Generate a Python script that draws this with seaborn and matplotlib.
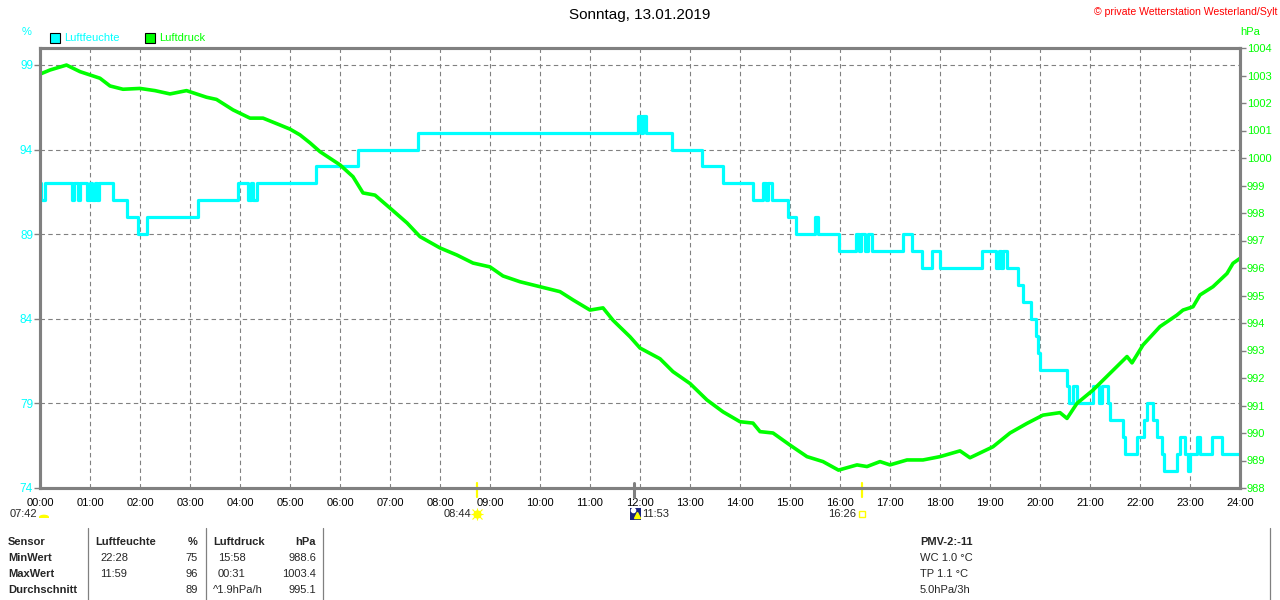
import numpy as np
import pandas as pd
import matplotlib
matplotlib.use("Agg")
import matplotlib.pyplot as plt
import seaborn as sns
from matplotlib.lines import Line2D
from matplotlib.patches import Rectangle, Wedge, Circle

# ---------------- data ----------------
hum_t = [0.00, 0.02, 0.09, 0.64, 0.68, 0.76, 0.79, 0.94, 1.00, 1.04, 1.10, 1.14, 1.18, 1.46, 1.74,
         1.96, 2.14, 3.16, 3.96, 4.16, 4.22, 4.26, 4.34, 5.52, 6.36, 7.56, 11.96, 12.02, 12.06, 12.12,
         12.64, 13.24, 13.66, 14.26, 14.46, 14.52, 14.56, 14.64, 14.96, 15.12, 15.50, 15.56, 15.98,
         16.32, 16.38, 16.42, 16.50, 16.56, 16.64, 17.26, 17.44, 17.64, 17.84, 18.00, 18.84, 19.12,
         19.18, 19.22, 19.26, 19.34, 19.56, 19.66, 19.82, 19.92, 19.96, 20.00, 20.54, 20.58, 20.66,
         20.74, 21.06, 21.18, 21.24, 21.36, 21.40, 21.66, 21.70, 21.94, 22.08, 22.14, 22.26, 22.34,
         22.44, 22.48, 22.74, 22.80, 22.90, 22.96, 23.00, 23.14, 23.20, 23.44, 23.64, 24.00]
hum_v = [92, 91, 92, 91, 92, 91, 92, 91, 92, 91, 92, 91, 92, 91, 90,
         89, 90, 91, 92, 91, 92, 91, 92, 93, 94, 95, 96, 95, 96, 95,
         94, 93, 92, 91, 92, 91, 92, 91, 90, 89, 90, 89, 88,
         89, 88, 89, 88, 89, 88, 89, 88, 87, 88, 87, 88, 87,
         88, 87, 88, 87, 86, 85, 84, 83, 82, 81, 80, 79, 80,
         79, 80, 79, 80, 79, 78, 77, 76, 77, 78, 79, 78, 77,
         76, 75, 76, 77, 76, 75, 76, 77, 76, 77, 76, 76]

p_t = [0.0, 0.2, 0.53, 0.8, 1.0, 1.2, 1.4, 1.66, 2.0, 2.3, 2.6, 2.93, 3.33, 3.53, 3.86, 4.2, 4.46,
       4.8, 5.0, 5.2, 5.4, 5.6, 6.0, 6.26, 6.46, 6.7, 7.0, 7.34, 7.6, 8.0, 8.34, 8.66, 9.0, 9.26,
       9.6, 10.0, 10.4, 10.66, 11.0, 11.26, 11.46, 11.8, 12.0, 12.4, 12.66, 13.0, 13.34, 13.66, 14.0,
       14.26, 14.4, 14.66, 15.0, 15.34, 15.66, 15.97, 16.34, 16.54, 16.8, 17.0, 17.34, 17.66, 18.0,
       18.4, 18.6, 19.06, 19.4, 19.74, 20.06, 20.4, 20.54, 20.74, 21.06, 21.4, 21.74, 21.84, 22.06,
       22.4, 22.74, 22.86, 23.06, 23.2, 23.46, 23.74, 23.86, 24.0]
p_v = [1003.05, 1003.2, 1003.38, 1003.14, 1003.02, 1002.9, 1002.62, 1002.5, 1002.53, 1002.45,
       1002.33, 1002.45, 1002.21, 1002.13, 1001.75, 1001.45, 1001.45, 1001.2, 1001.05, 1000.84,
       1000.55, 1000.23, 999.75, 999.32, 998.73, 998.65, 998.18, 997.64, 997.14, 996.73, 996.47,
       996.18, 996.04, 995.71, 995.5, 995.32, 995.14, 994.84, 994.47, 994.55, 994.1, 993.5, 993.09,
       992.7, 992.23, 991.8, 991.2, 990.77, 990.41, 990.36, 990.05, 990.0, 989.56, 989.14, 988.96,
       988.65, 988.84, 988.78, 988.96, 988.84, 989.02, 989.02, 989.14, 989.35, 989.1, 989.5, 990.0,
       990.35, 990.65, 990.74, 990.53, 991.08, 991.56, 992.17, 992.78, 992.55, 993.2, 993.87,
       994.29, 994.47, 994.59, 995.02, 995.32, 995.8, 996.17, 996.35]

hour_ticks = list(range(0, 25))
hour_labels = [f"{h:02d}:00" for h in hour_ticks]
hum_ticks = [74, 79, 84, 89, 94, 99]
p_ticks = list(range(988, 1005))

title = "Sonntag, 13.01.2019"
copyright_txt = "\u00a9 private Wetterstation Westerland/Sylt"

table_rows = ["Sensor", "MinWert", "MaxWert", "Durchschnitt"]
hum_times = ["", "22:28", "11:59", ""]
hum_vals = ["%", "75", "96", "89"]
p_times = ["", "15:58", "00:31", "^1.9hPa/h"]
p_vals = ["hPa", "988.6", "1003.4", "995.1"]
extra_lines = ["PMV-2:-11", "WC 1.0 \u00b0C", "TP 1.1 \u00b0C", "5.0hPa/3h"]

sun_events = ["07:42", "08:44", "11:53", "16:26"]

# ---------------- style ----------------
sns.set_style("white")
plt.rcParams['font.family'] = ['Liberation Sans', 'DejaVu Sans']

CYAN = "#00FFFF"
GREEN = "#00FF00"
GRAY = "#808080"
YEL = "#FFFF00"

W, H = 1280, 600
fig = plt.figure(figsize=(12.8, 6.0), dpi=100)
fig.patch.set_facecolor("white")


def fx(x):
    return x / W


def fy(y):
    return 1 - y / H


ax = fig.add_axes([fx(40), fy(488), (1240 - 40) / W, (488 - 48) / H])
ax2 = ax.twinx()

df_h = pd.DataFrame({"t": hum_t, "v": hum_v})
df_p = pd.DataFrame({"t": p_t, "v": p_v})

sns.lineplot(data=df_h, x="t", y="v", ax=ax, color=CYAN, linewidth=2.3,
             drawstyle="steps-post", estimator=None, legend=False)
sns.lineplot(data=df_p, x="t", y="v", ax=ax2, color=GREEN, linewidth=2.6,
             estimator=None, legend=False)

ax.set_xlim(0, 24)
ax.set_ylim(74, 100)
ax2.set_ylim(988, 1004)

ax.set_xlabel("")
ax.set_ylabel("")
ax2.set_ylabel("")

ax.set_xticks(hour_ticks)
ax.set_xticklabels(hour_labels)
ax.set_yticks(hum_ticks)
ax2.set_yticks(p_ticks)

ax.grid(True, linestyle=(0, (4, 3)), color=GRAY, linewidth=0.8)
ax.set_axisbelow(True)
ax2.grid(False)

for a in (ax, ax2):
    for s in a.spines.values():
        s.set_color(GRAY)
        s.set_linewidth(2.2)
        s.set_visible(True)

ax.tick_params(axis='x', length=0, pad=7, labelsize=8, labelcolor='black')
ax.tick_params(axis='y', length=4, width=1, color=GRAY, labelcolor=CYAN, labelsize=8.5, pad=1)
ax2.tick_params(axis='y', length=4, width=1, color=GRAY, labelcolor=GREEN, labelsize=8, pad=1)

# sun event markers on x-axis
xt = ax.get_xaxis_transform()
for tx, col, lw in [(8 + 44 / 60, YEL, 1.6), (11 + 53 / 60, GRAY, 2.2), (16 + 26 / 60, YEL, 1.6)]:
    ax.add_line(Line2D([tx, tx], [0.012, -0.021], transform=xt, color=col, lw=lw, clip_on=False))

# ---------------- texts ----------------
fig.text(fx(640), fy(15), title, ha='center', va='center', fontsize=11, color='black')
fig.text(fx(1277), fy(12), copyright_txt, ha='right', va='center', fontsize=7.6, color='red')

fig.text(fx(22), fy(32), "%", ha='left', va='center', fontsize=8, color=CYAN)
fig.text(fx(1240), fy(32), "hPa", ha='left', va='center', fontsize=8, color=GREEN)

# legend
fig.add_artist(Rectangle((fx(50), fy(43)), 10 / W, 10 / H, transform=fig.transFigure,
                         facecolor=CYAN, edgecolor='black', lw=0.8))
fig.text(fx(64), fy(38), "Luftfeuchte", ha='left', va='center', fontsize=8, color=CYAN)
fig.add_artist(Rectangle((fx(145), fy(43)), 10 / W, 10 / H, transform=fig.transFigure,
                         facecolor=GREEN, edgecolor='black', lw=0.8))
fig.text(fx(159), fy(38), "Luftdruck", ha='left', va='center', fontsize=8, color=GREEN)

# sun rise / noon / set annotations
fig.text(fx(37), fy(514), sun_events[0], ha='right', va='center', fontsize=8)
fig.add_artist(Wedge((fx(44), fy(517)), 5 / W, 0, 180, transform=fig.transFigure,
                     facecolor=YEL, edgecolor='none'))
fig.add_artist(Rectangle((fx(39), fy(518)), 10 / W, 1.5 / H, transform=fig.transFigure,
                         facecolor=YEL, edgecolor='none'))

fig.text(fx(471), fy(514), sun_events[1], ha='right', va='center', fontsize=8)
fig.add_artist(Line2D([fx(477)], [fy(514)], marker='o', markersize=5, color=YEL,
                      transform=fig.transFigure))
fig.add_artist(Line2D([fx(477)], [fy(514)], marker='+', markersize=9, color=YEL, mew=0.8,
                      transform=fig.transFigure))
fig.add_artist(Line2D([fx(477)], [fy(514)], marker='x', markersize=7, color=YEL, mew=0.8,
                      transform=fig.transFigure))

fig.add_artist(Rectangle((fx(630), fy(520)), 11 / W, 12 / H, transform=fig.transFigure,
                         facecolor='#1a237e', edgecolor='none'))
fig.add_artist(Line2D([fx(633)], [fy(510)], marker='o', markersize=3, color='white',
                      transform=fig.transFigure))
fig.add_artist(Line2D([fx(637)], [fy(515)], marker='^', markersize=4, color=YEL,
                      transform=fig.transFigure))
fig.text(fx(642), fy(514), sun_events[2], ha='left', va='center', fontsize=8)

fig.text(fx(856), fy(514), sun_events[3], ha='right', va='center', fontsize=8)
fig.add_artist(Rectangle((fx(859), fy(517)), 6 / W, 6 / H, transform=fig.transFigure,
                         facecolor='none', edgecolor=YEL, lw=1))

# ---------------- table ----------------
for xs in (88, 206, 323, 1270):
    fig.add_artist(Line2D([fx(xs), fx(xs)], [fy(528), fy(600)], color=GRAY, lw=0.9,
                          transform=fig.transFigure))

row_y = [542, 558, 574, 590]
for i, y in enumerate(row_y):
    fig.text(fx(8), fy(y), table_rows[i], ha='left', va='center', fontsize=8, weight='bold')
    if i == 0:
        fig.text(fx(95), fy(y), "Luftfeuchte", ha='left', va='center', fontsize=8, weight='bold')
        fig.text(fx(198), fy(y), hum_vals[i], ha='right', va='center', fontsize=8, weight='bold')
        fig.text(fx(213), fy(y), "Luftdruck", ha='left', va='center', fontsize=8, weight='bold')
        fig.text(fx(316), fy(y), p_vals[i], ha='right', va='center', fontsize=8, weight='bold')
        fig.text(fx(920), fy(y), extra_lines[i], ha='left', va='center', fontsize=8, weight='bold')
    else:
        fig.text(fx(100), fy(y), hum_times[i], ha='left', va='center', fontsize=8)
        fig.text(fx(198), fy(y), hum_vals[i], ha='right', va='center', fontsize=8)
        fig.text(fx(213) if i == 3 else fx(218), fy(y), p_times[i], ha='left', va='center', fontsize=8)
        fig.text(fx(316), fy(y), p_vals[i], ha='right', va='center', fontsize=8)
        fig.text(fx(920), fy(y), extra_lines[i], ha='left', va='center', fontsize=8)

fig.savefig("out.png", dpi=100, facecolor="white")
